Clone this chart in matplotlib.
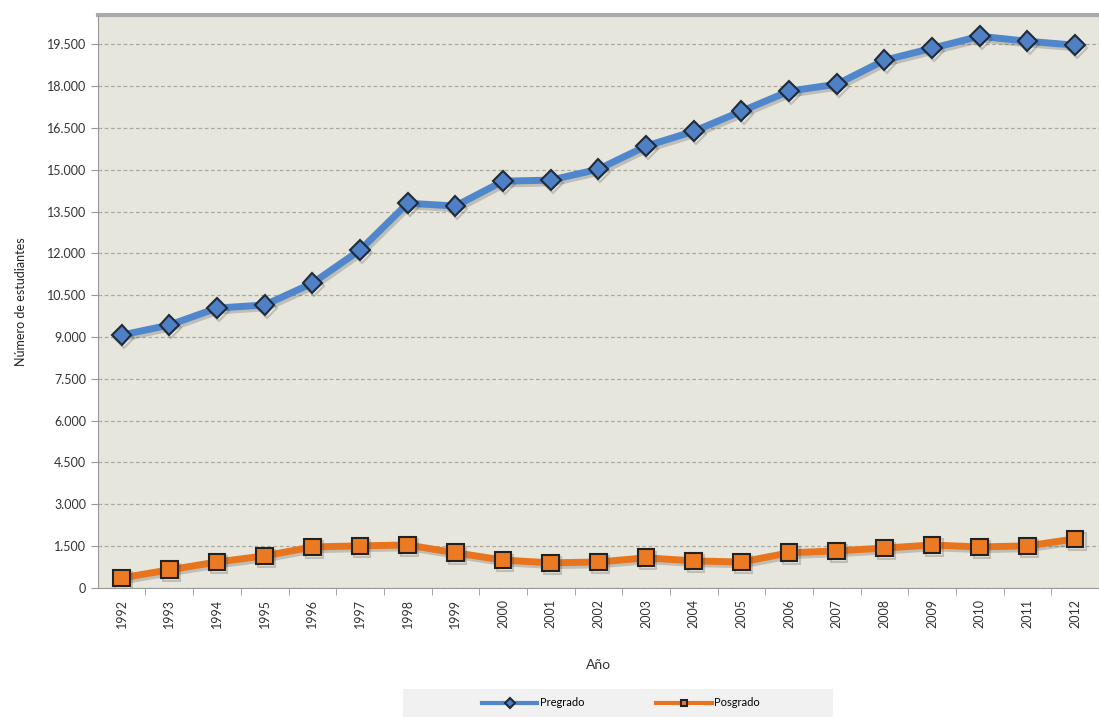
import matplotlib
matplotlib.use("Agg")
import matplotlib.pyplot as plt
import matplotlib.patheffects as pe
from matplotlib.patches import Rectangle
from matplotlib.ticker import FuncFormatter, MultipleLocator

plt.rcParams['font.family'] = ['Lato', 'DejaVu Sans']

#data
years = [str(y) for y in range(1992, 2013)]
pregrado = [9070, 9430, 10040, 10150, 10930, 12120, 13800, 13700, 14590, 14630,
            15020, 15850, 16380, 17100, 17820, 18070, 18930, 19360, 19790, 19610, 19470]
posgrado = [360, 650, 930, 1150, 1470, 1510, 1540, 1260, 1000, 900,
            930, 1080, 970, 930, 1260, 1330, 1430, 1540, 1470, 1510, 1760]

fig = plt.figure(figsize=(10.99, 7.17), dpi=100)
ax = fig.add_axes([0.089, 0.18, 0.911, 0.799])
ax.set_facecolor('#E7E6DC')

x = list(range(len(years)))
shadow = [pe.SimpleLineShadow(offset=(1.5, -2), alpha=0.22, shadow_color='#333333'), pe.Normal()]

ax.plot(x, pregrado, color='#5087CC', lw=5, marker='D', markersize=10,
        markerfacecolor='#4F7FC4', markeredgecolor='#1F2A3A', markeredgewidth=1.5,
        label='Pregrado', path_effects=shadow, zorder=3)
ax.plot(x, posgrado, color='#E8751E', lw=5, marker='s', markersize=12,
        markerfacecolor='#EC7A22', markeredgecolor='#222222', markeredgewidth=1.5,
        label='Posgrado', path_effects=shadow, zorder=3)

ax.set_xlim(-0.5, len(years) - 0.5)
ax.set_ylim(0, 20550)
ax.yaxis.set_major_locator(MultipleLocator(1500))
ax.yaxis.set_major_formatter(FuncFormatter(lambda v, p: f"{int(v):,}".replace(',', '.')))
ax.set_xticks(x)
ax.set_xticklabels(years, rotation=90, fontsize=9, color='#333333')
ax.set_xticks([i + 0.5 for i in x[:-1]], minor=True)
ax.tick_params(axis='x', which='major', length=0, pad=8)
ax.tick_params(axis='x', which='minor', length=5, color='#999999')
ax.tick_params(axis='y', labelsize=9, labelcolor='#333333', length=5, color='#999999')

ax.grid(axis='y', color='#AAAAA0', linestyle=(0, (3, 2)), linewidth=0.9)
ax.set_axisbelow(True)

for side in ['top', 'right']:
    ax.spines[side].set_visible(False)
ax.spines['left'].set_color('#999999')
ax.spines['bottom'].set_color('#999999')
ax.axhline(20550, color='#AAAAAA', lw=3, clip_on=False)

ax.set_ylabel('Número de estudiantes', fontsize=9, color='#222222', labelpad=14)
ax.set_xlabel('Año', fontsize=10, color='#333333', labelpad=22)

#legend background band
fig.patches.append(Rectangle((403 / 1099, 0), 430 / 1099, 28 / 717,
                             transform=fig.transFigure, facecolor='#F1F1F1',
                             edgecolor='none', zorder=0))

leg = fig.legend(loc='center', bbox_to_anchor=(0.565, 14 / 717), ncol=2, fontsize=8,
                 frameon=False, columnspacing=6.5, handlelength=5, handletextpad=0.2)
for h in leg.legend_handles:
    h.set_markersize(5)
    h.set_linewidth(3)
    h.set_path_effects([])

fig.savefig('out.png', dpi=100)
